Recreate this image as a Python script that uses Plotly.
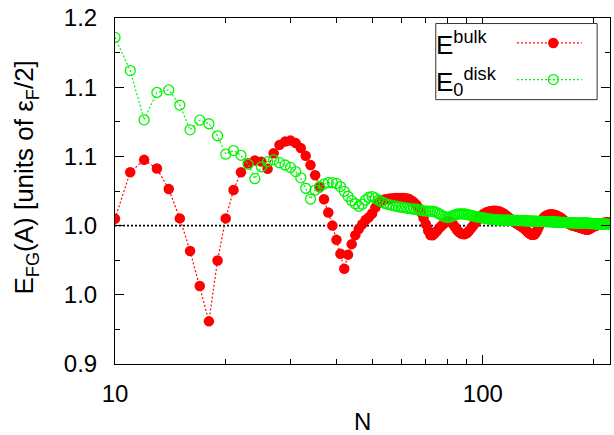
import plotly.graph_objects as go

# particle number N (every integer from 10 to 220)
N = list(range(10, 221))

# E^bulk
e_bulk = [
    1.0050, 1.0386, 1.0475, 1.0412, 1.0265, 1.0052, 0.9817, 0.9564, 0.9308, 0.9748,  # 10-19
    1.0052, 1.0257, 1.0386, 1.0450, 1.0470, 1.0462, 1.0410, 1.0523, 1.0583, 1.0607,  # 20-29
    1.0614, 1.0596, 1.0560, 1.0504, 1.0438, 1.0364, 1.0277, 1.0190, 1.0095, 1.0000,  # 30-39
    0.9897, 0.9796, 0.9688, 0.9790, 0.9866, 0.9931, 0.9975, 1.0010, 1.0040, 1.0060,  # 40-49
    1.0088, 1.0130, 1.0165, 1.0182, 1.0188, 1.0192, 1.0195, 1.0197, 1.0199, 1.0200,  # 50-59
    1.0200, 1.0200, 1.0198, 1.0192, 1.0182, 1.0168, 1.0150, 1.0125, 1.0095, 1.0055,  # 60-69
    1.0010, 0.9965, 0.9932, 0.9930, 0.9945, 0.9960, 0.9980, 0.9995, 1.0010, 1.0022,  # 70-79
    1.0030, 1.0032, 1.0025, 1.0010, 0.9990, 0.9970, 0.9955, 0.9945, 0.9940, 0.9938,  # 80-89
    0.9942, 0.9952, 0.9966, 0.9982, 0.9998, 1.0014, 1.0030, 1.0045, 1.0058, 1.0070,  # 90-99
    1.0080, 1.0088, 1.0094, 1.0099, 1.0102, 1.0104, 1.0106, 1.0107, 1.0107, 1.0106,  # 100-109
    1.0104, 1.0101, 1.0097, 1.0092, 1.0086, 1.0078, 1.0070, 1.0062, 1.0055, 1.0047,  # 110-119
    1.0040, 1.0033, 1.0026, 1.0019, 1.0013, 1.0007, 1.0001, 0.9995, 0.9989, 0.9982,  # 120-129
    0.9975, 0.9967, 0.9958, 0.9950, 0.9943, 0.9937, 0.9934, 0.9933, 0.9936, 0.9945,  # 130-139
    0.9958, 0.9975, 0.9993, 1.0011, 1.0028, 1.0042, 1.0053, 1.0062, 1.0068, 1.0073,  # 140-149
    1.0076, 1.0078, 1.0080, 1.0081, 1.0081, 1.0080, 1.0079, 1.0077, 1.0074, 1.0071,  # 150-159
    1.0068, 1.0064, 1.0060, 1.0055, 1.0050, 1.0044, 1.0038, 1.0032, 1.0027, 1.0022,  # 160-169
    1.0018, 1.0014, 1.0011, 1.0008, 1.0005, 1.0003, 1.0001, 0.9999, 0.9997, 0.9995,  # 170-179
    0.9993, 0.9991, 0.9989, 0.9987, 0.9985, 0.9983, 0.9981, 0.9979, 0.9977, 0.9975,  # 180-189
    0.9973, 0.9972, 0.9971, 0.9972, 0.9974, 0.9977, 0.9980, 0.9984, 0.9988, 0.9991,  # 190-199
    0.9994, 0.9996, 0.9998, 1.0000, 1.0002, 1.0004, 1.0006, 1.0008, 1.0010, 1.0012,  # 200-209
    1.0014, 1.0016, 1.0018, 1.0019, 1.0020, 1.0021, 1.0022, 1.0022, 1.0023, 1.0023,  # 210-219
    1.0023,                                                                          # 220
]

# E_0^disk
e_disk = [
    1.1360, 1.1120, 1.0764, 1.0962, 1.0980, 1.0871, 1.0692, 1.0762, 1.0736, 1.0649,  # 10-19
    1.0516, 1.0542, 1.0508, 1.0443, 1.0339, 1.0425, 1.0462, 1.0475, 1.0455, 1.0438,  # 20-29
    1.0420, 1.0390, 1.0345, 1.0270, 1.0192, 1.0257, 1.0281, 1.0300, 1.0310, 1.0310,  # 30-39
    1.0305, 1.0282, 1.0248, 1.0212, 1.0180, 1.0158, 1.0140, 1.0155, 1.0185, 1.0205,  # 40-49
    1.0210, 1.0200, 1.0185, 1.0172, 1.0162, 1.0155, 1.0150, 1.0145, 1.0140, 1.0136,  # 50-59
    1.0133, 1.0130, 1.0127, 1.0124, 1.0121, 1.0118, 1.0118, 1.0114, 1.0110, 1.0107,  # 60-69
    1.0105, 1.0104, 1.0104, 1.0103, 1.0100, 1.0094, 1.0086, 1.0077, 1.0069, 1.0063,  # 70-79
    1.0060, 1.0061, 1.0066, 1.0072, 1.0078, 1.0082, 1.0084, 1.0085, 1.0085, 1.0084,  # 80-89
    1.0082, 1.0079, 1.0076, 1.0073, 1.0070, 1.0067, 1.0064, 1.0062, 1.0060, 1.0058,  # 90-99
    1.0057, 1.0053, 1.0051, 1.0049, 1.0047, 1.0046, 1.0045, 1.0044, 1.0043, 1.0042,  # 100-109
    1.0042, 1.0041, 1.0041, 1.0040, 1.0040, 1.0040, 1.0039, 1.0039, 1.0039, 1.0039,  # 110-119
    1.0038, 1.0038, 1.0038, 1.0037, 1.0037, 1.0037, 1.0036, 1.0036, 1.0036, 1.0035,  # 120-129
    1.0035, 1.0035, 1.0034, 1.0034, 1.0034, 1.0033, 1.0033, 1.0033, 1.0032, 1.0032,  # 130-139
    1.0032, 1.0031, 1.0031, 1.0031, 1.0030, 1.0030, 1.0030, 1.0029, 1.0029, 1.0029,  # 140-149
    1.0028, 1.0028, 1.0028, 1.0027, 1.0027, 1.0027, 1.0026, 1.0026, 1.0026, 1.0025,  # 150-159
    1.0025, 1.0025, 1.0024, 1.0024, 1.0024, 1.0023, 1.0023, 1.0023, 1.0022, 1.0022,  # 160-169
    1.0022, 1.0021, 1.0021, 1.0021, 1.0020, 1.0020, 1.0020, 1.0019, 1.0019, 1.0019,  # 170-179
    1.0018, 1.0018, 1.0018, 1.0018, 1.0018, 1.0019, 1.0019, 1.0020, 1.0020, 1.0020,  # 180-189
    1.0020, 1.0020, 1.0019, 1.0018, 1.0017, 1.0016, 1.0016, 1.0015, 1.0015, 1.0014,  # 190-199
    1.0014, 1.0014, 1.0013, 1.0013, 1.0013, 1.0012, 1.0012, 1.0012, 1.0012, 1.0011,  # 200-209
    1.0011, 1.0011, 1.0011, 1.0010, 1.0010, 1.0010, 1.0010, 1.0010, 1.0009, 1.0009,  # 210-219
    1.0009,                                                                          # 220
]

# axis ticks (gnuplot-style labels printed with one decimal)
y_tickvals = [0.90, 0.95, 1.00, 1.05, 1.10, 1.15]
y_ticktext = ["0.9", "1.0", "1.0", "1.1", "1.1", "1.2"]
y_minor = [0.925, 0.975, 1.025, 1.075, 1.125]
x_tickvals = [10, 100]
x_ticktext = ["10", "100"]
x_minor = [20, 30, 40, 50, 60, 70, 80, 90, 200]
reference_level = 1.0

FONT = "Liberation Sans, Arial, Helvetica, sans-serif"
RED = "#ff0000"
GREEN = "#00f500"

fig = go.Figure()

fig.add_trace(go.Scatter(
    x=N, y=e_bulk, mode="lines+markers", name="E<sup>bulk</sup>",
    line=dict(color=RED, width=1.2, dash="2px,2px"),
    marker=dict(symbol="circle", size=10.5, color=RED, line=dict(width=0)),
    showlegend=False,
))
fig.add_trace(go.Scatter(
    x=N, y=e_disk, mode="lines+markers", name="E<sub>0</sub><sup>disk</sup>",
    line=dict(color=GREEN, width=1.2, dash="2px,2px"),
    marker=dict(symbol="circle-open", size=10, color=GREEN, line=dict(width=1.3, color=GREEN)),
    showlegend=False,
))

# horizontal dotted reference line at 1.0
fig.add_shape(type="line", xref="paper", x0=0, x1=1, yref="y", y0=reference_level, y1=reference_level,
              line=dict(color="black", width=1.8, dash="2px,2px"), layer="below")

# ---- hand-made legend box in the gnuplot style (text left, sample right) ----
fig.add_shape(type="rect", xref="paper", yref="paper", x0=0.648, x1=0.974, y0=0.764, y1=0.984,
              line=dict(color="#333333", width=1), fillcolor="white", layer="above")
for yy, col in [(0.928, RED), (0.822, GREEN)]:
    fig.add_shape(type="line", xref="paper", yref="paper", x0=0.812, x1=0.943, y0=yy, y1=yy,
                  line=dict(color=col, width=1.2, dash="2px,2px"), layer="above")
fig.add_shape(type="circle", xref="paper", yref="paper",
              x0=0.8855 - 0.0106, x1=0.8855 + 0.0106, y0=0.928 - 0.0152, y1=0.928 + 0.0152,
              line=dict(color=RED, width=0), fillcolor=RED, layer="above")
fig.add_shape(type="circle", xref="paper", yref="paper",
              x0=0.8855 - 0.0101, x1=0.8855 + 0.0101, y0=0.822 - 0.0145, y1=0.822 + 0.0145,
              line=dict(color=GREEN, width=1.3), fillcolor="rgba(0,0,0,0)", layer="above")

fig.add_annotation(xref="paper", yref="paper", x=0.645, y=0.925, xanchor="left", yanchor="middle",
                   text="E<sup>bulk</sup>", showarrow=False, font=dict(family=FONT, size=26, color="black"))
fig.add_annotation(xref="paper", yref="paper", x=0.645, y=0.815, xanchor="left", yanchor="middle",
                   text="E<sub>0</sub><sup>disk</sup>", showarrow=False, font=dict(family=FONT, size=26, color="black"))

# axis titles
fig.add_annotation(xref="paper", yref="paper", x=-0.181, y=0.54, xanchor="center", yanchor="middle",
                   textangle=-90, text="E<sub>FG</sub>(A) [units of ε<sub>F</sub>/2]", showarrow=False,
                   font=dict(family=FONT, size=26, color="black"))
fig.add_annotation(xref="paper", yref="paper", x=0.5, y=-0.166, xanchor="center", yanchor="middle",
                   text="N", showarrow=False, font=dict(family=FONT, size=24, color="black"))

fig.update_xaxes(
    type="log", range=[1, 2.3457], automargin=False,
    tickmode="array", tickvals=x_tickvals, ticktext=x_ticktext,
    ticks="inside", ticklen=9, tickwidth=1, tickcolor="black",
    minor=dict(tickmode="array", tickvals=x_minor, ticks="inside", ticklen=5, tickwidth=1, tickcolor="black", showgrid=False),
    showline=True, linecolor="black", linewidth=1, mirror="ticks",
    showgrid=False, zeroline=False,
    tickfont=dict(family=FONT, size=24, color="black"), ticklabelstandoff=8,
)
fig.update_yaxes(
    range=[0.9, 1.15], automargin=False,
    tickmode="array", tickvals=y_tickvals, ticktext=y_ticktext,
    ticks="inside", ticklen=9, tickwidth=1, tickcolor="black",
    minor=dict(tickmode="array", tickvals=y_minor, ticks="inside", ticklen=5, tickwidth=1, tickcolor="black", showgrid=False),
    showline=True, linecolor="black", linewidth=1, mirror="ticks",
    showgrid=False, zeroline=False,
    tickfont=dict(family=FONT, size=24, color="black"), ticklabelstandoff=12,
)

fig.update_layout(
    width=614, height=435,
    margin=dict(l=115, r=4, t=18, b=71, autoexpand=False),
    paper_bgcolor="white", plot_bgcolor="white",
    font=dict(family=FONT, size=24, color="black"),
    showlegend=False,
)

fig.write_html("out.html", config={"displayModeBar": False},
               post_script="document.body.style.margin='0';document.body.style.overflow='hidden';")
